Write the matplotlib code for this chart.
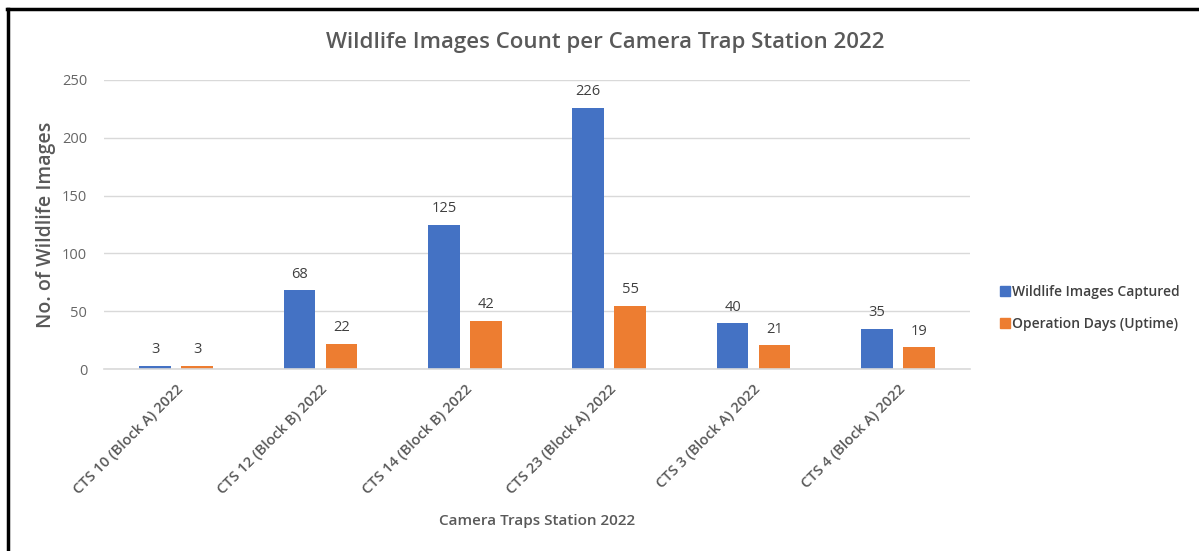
import matplotlib.pyplot as plt
import numpy as np
from matplotlib.lines import Line2D

plt.rcParams['font.family'] = ['Open Sans', 'DejaVu Sans']

stations = ['CTS 10 (Block A) 2022', 'CTS 12 (Block B) 2022', 'CTS 14 (Block B) 2022',
            'CTS 23 (Block A) 2022', 'CTS 3 (Block A) 2022', 'CTS 4 (Block A) 2022']
images = [3, 68, 125, 226, 40, 35]
uptime = [3, 22, 42, 55, 21, 19]
yticks = [0, 50, 100, 150, 200, 250]

blue = '#4472C4'
orange = '#ED7D31'
grey = '#595959'

fig = plt.figure(figsize=(11.99, 5.51), dpi=100)
ax = fig.add_axes([0.0867, 0.330, 0.7223, 0.525])

x = np.arange(len(stations))
w = 0.22
off = 0.145
b1 = ax.bar(x - off, images, w, color=blue, label='Wildlife Images Captured')
b2 = ax.bar(x + off, uptime, w, color=orange, label='Operation Days (Uptime)')
for bars in (b1, b2):
    ax.bar_label(bars, padding=6, fontsize=10.5, color='#404040')

ax.set_xlim(-0.5, len(stations) - 0.5)
ax.set_ylim(0, 250)
ax.set_yticks(yticks)
ax.grid(axis='y', color='#d9d9d9', linewidth=1)
ax.set_axisbelow(True)
for s in ['top', 'right', 'left']:
    ax.spines[s].set_visible(False)
ax.spines['bottom'].set_color('#d9d9d9')
ax.spines['bottom'].set_linewidth(1.2)
ax.tick_params(axis='both', length=0, colors=grey, labelsize=10.5)
ax.tick_params(axis='y', pad=12, colors='#666666')
ax.tick_params(axis='x', pad=9)
ax.set_xticks(x)
ax.set_xticklabels(stations, rotation=45, ha='right', rotation_mode='anchor',
                   fontsize=10.5, fontweight='semibold')

fig.text(0.505, 0.922, 'Wildlife Images Count per Camera Trap Station 2022',
         ha='center', va='center', fontsize=16, fontweight='semibold', color=grey)
fig.text(0.038, 0.592, 'No. of Wildlife Images', rotation=90, ha='center', va='center',
         fontsize=14, fontweight='semibold', color=grey)
fig.text(0.448, 0.055, 'Camera Traps Station 2022', ha='center', va='center',
         fontsize=11, fontweight='semibold', color=grey)

handles = [Line2D([], [], marker='s', linestyle='none', color=blue, markersize=7),
           Line2D([], [], marker='s', linestyle='none', color=orange, markersize=7)]
leg = fig.legend(handles, ['Wildlife Images Captured', 'Operation Days (Uptime)'],
                 loc='center left', bbox_to_anchor=(0.823, 0.441), frameon=False,
                 fontsize=10, handletextpad=0.15, labelspacing=1.3, handlelength=0.8)
for t in leg.get_texts():
    t.set_color('#404040')
    t.set_fontweight('semibold')

# frame around the chart
fig.add_artist(Line2D([0.007, 0.007], [0.0, 0.984], color='black', linewidth=2.5,
                      transform=fig.transFigure))
fig.add_artist(Line2D([0.006, 1.0], [0.984, 0.984], color='black', linewidth=2.5,
                      transform=fig.transFigure))

fig.savefig('out.png', dpi=100)
